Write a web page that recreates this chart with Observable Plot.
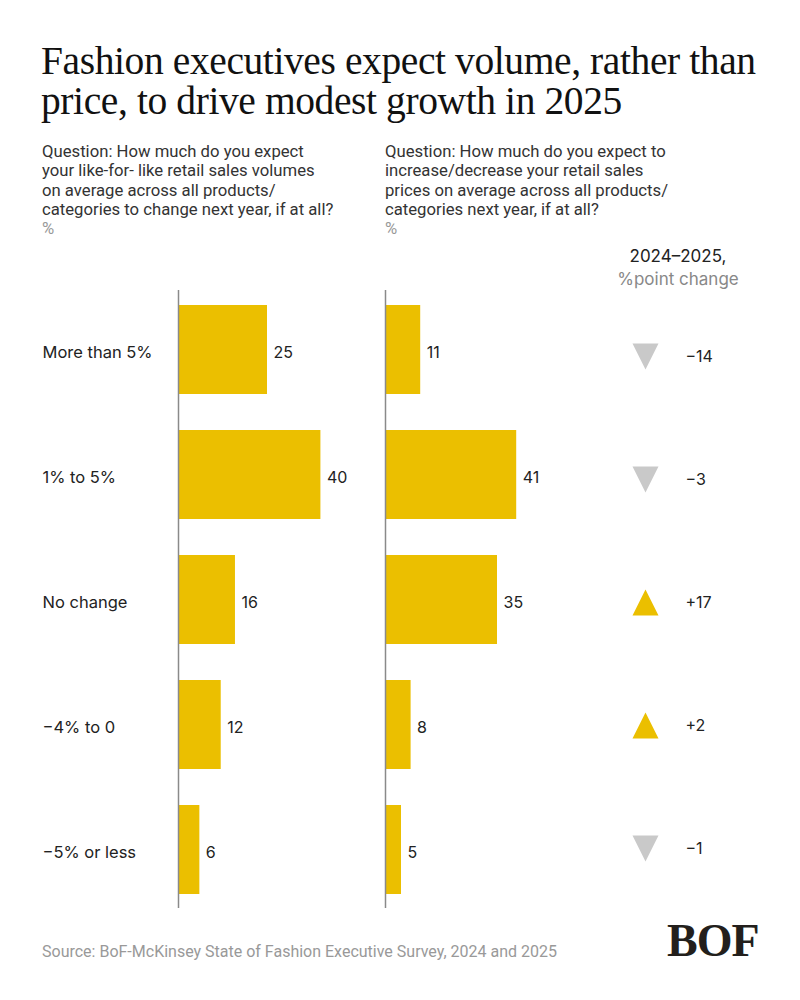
<!DOCTYPE html>
<html>
<head>
<meta charset="utf-8">
<script src="https://cdn.jsdelivr.net/npm/d3@7"></script>
<script src="https://cdn.jsdelivr.net/npm/@observablehq/plot@0.6"></script>
<style>
  html, body { margin: 0; padding: 0; background: #fff; }
  #root { position: relative; width: 800px; height: 1000px; overflow: hidden; background: #fff; }
  .abs { position: absolute; }
  .title { left: 41px; top: 41px; font-family: "Liberation Serif", "DejaVu Serif", serif; font-size: 39.5px; line-height: 40px; color: #111; letter-spacing: -0.4px; white-space: nowrap; }
  .q { font-family: Roboto, "Liberation Sans", sans-serif; font-size: 16.7px; line-height: 19.3px; color: #333; white-space: nowrap; }
  .q .pct { color: #999; }
  .chg { left: 585px; width: 186px; top: 245px; text-align: center; font-family: Inter, sans-serif; font-size: 17px; line-height: 23px; color: #222; }
  .chg .g { color: #888; }
  .src { left: 42px; top: 942px; font-family: Roboto, "Liberation Sans", sans-serif; font-size: 16px; color: #999; white-space: nowrap; }
  .logo { left: 667px; top: 915px; font-family: "Liberation Serif", serif; font-weight: bold; font-size: 46px; line-height: 52px; color: #231f1c; letter-spacing: -1px; }
</style>
</head>
<body>
<div id="root">
  <div class="abs title">Fashion executives expect volume, rather than<br>price, to drive modest growth in 2025</div>
  <div class="abs q" style="left:42px; top:142px;">Question: How much do you expect<br>your like-for- like retail sales volumes<br>on average across all products/<br>categories to change next year, if at all?<br><span class="pct">%</span></div>
  <div class="abs q" style="left:385px; top:142px;">Question: How much do you expect to<br>increase/decrease your retail sales<br>prices on average across all products/<br>categories next year, if at all?<br><span class="pct">%</span></div>
  <div class="abs chg">2024–2025,<br><span class="g">%point change</span></div>
  <div class="abs src">Source: BoF-McKinsey State of Fashion Executive Survey, 2024 and 2025</div>
  <div class="abs logo">BOF</div>
</div>
<script>
const categories = ["More than 5%", "1% to 5%", "No change", "\u22124% to 0", "\u22125% or less"];
const volumeValues = [25, 40, 16, 12, 6];
const priceValues = [11, 41, 35, 8, 5];
const changeValues = [-14, -3, 17, 2, -1];

const rows = categories.map((cat, i) => ({
  cat,
  volume: volumeValues[i],
  price: priceValues[i],
  change: changeValues[i],
  changeLabel: (changeValues[i] > 0 ? "+" : "\u2212") + Math.abs(changeValues[i])
}));

const BAR = "#EBBF00";
const GREY_TRI = "#C9C9C9";
const H = 618, TOP = 290;
const yOpts = { domain: categories, paddingInner: 0.29, paddingOuter: 0.11, axis: null };
const textFont = "Inter, sans-serif";

const root = document.getElementById("root");
function place(el, left) {
  el.style.position = "absolute";
  el.style.left = left + "px";
  el.style.top = TOP + "px";
  el.style.overflow = "visible";
  root.appendChild(el);
}

// Left panel: volumes
const p1 = Plot.plot({
  width: 370, height: H,
  marginLeft: 178, marginRight: 14, marginTop: 0, marginBottom: 0,
  x: { domain: [0, 50], axis: null },
  y: yOpts,
  style: { fontFamily: textFont, fontSize: "16px", color: "#222", overflow: "visible" },
  marks: [
    Plot.barX(rows, { x: "volume", y: "cat", fill: BAR }),
    Plot.ruleX([0], { stroke: "#8a8a8a", strokeWidth: 1.5 }),
    Plot.text(rows, { x: "volume", y: "cat", text: d => String(d.volume), textAnchor: "start", dx: 6, dy: 3, fill: "#222" }),
    Plot.text(rows, { y: "cat", text: "cat", frameAnchor: "left", dx: -136, dy: 3, textAnchor: "start", fill: "#222", fontSize: 16.5 })
  ]
});
place(p1, 0);

// Right panel: prices
const p2 = Plot.plot({
  width: 215, height: H,
  marginLeft: 15, marginRight: 40, marginTop: 0, marginBottom: 0,
  x: { domain: [0, 50], axis: null },
  y: yOpts,
  style: { fontFamily: textFont, fontSize: "16px", color: "#222", overflow: "visible" },
  marks: [
    Plot.barX(rows, { x: "price", y: "cat", fill: BAR }),
    Plot.ruleX([0], { stroke: "#8a8a8a", strokeWidth: 1.5 }),
    Plot.text(rows, { x: "price", y: "cat", text: d => String(d.price), textAnchor: "start", dx: 6, dy: 3, fill: "#222" })
  ]
});
place(p2, 370);

// Change column
const triUp = { draw(ctx, size) { const r = Math.sqrt(size / Math.PI); ctx.moveTo(0, -r); ctx.lineTo(r, r); ctx.lineTo(-r, r); ctx.closePath(); } };
const triDown = { draw(ctx, size) { const r = Math.sqrt(size / Math.PI); ctx.moveTo(0, r); ctx.lineTo(r, -r); ctx.lineTo(-r, -r); ctx.closePath(); } };
const p3 = Plot.plot({
  width: 215, height: H,
  marginLeft: 0, marginRight: 0, marginTop: 0, marginBottom: 0,
  y: yOpts,
  style: { fontFamily: textFont, fontSize: "16px", color: "#222", overflow: "visible" },
  marks: [
    Plot.dot(rows.filter(d => d.change > 0), { y: "cat", frameAnchor: "left", dx: 60, dy: 3, symbol: triUp, r: 13, fill: BAR, stroke: null }),
    Plot.dot(rows.filter(d => d.change < 0), { y: "cat", frameAnchor: "left", dx: 60, dy: 3, symbol: triDown, r: 13, fill: GREY_TRI, stroke: null }),
    Plot.text(rows, { y: "cat", text: "changeLabel", frameAnchor: "left", dx: 100, dy: 3, textAnchor: "start", fill: "#222" })
  ]
});
place(p3, 585);
</script>
</body>
</html>
